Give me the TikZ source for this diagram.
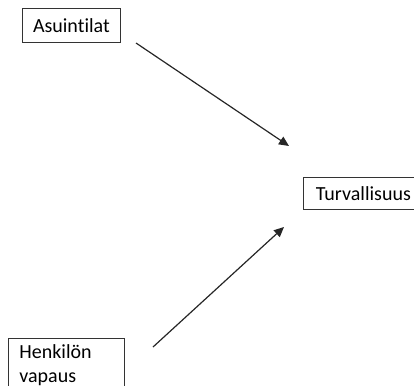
\documentclass[tikz,border=0pt]{standalone}
\usepackage{fontspec}
\setmainfont{Carlito}[Ligatures=NoCommon]
\usetikzlibrary{arrows.meta}

\tikzset{
  box/.style={draw=black!80, line width=0.8pt, rectangle, anchor=north west,
    font=\fontsize{20}{24.4}\selectfont},
  link/.style={-{Triangle[length=10pt,width=9pt]}, line width=1.2pt, black!85}
}

\begin{document}
\begin{tikzpicture}[x=1pt, y=-1pt]
    \useasboundingbox (0,0) rectangle (414,385);
    \node[box, minimum width=98pt, minimum height=34pt, inner xsep=0pt] (asuin) at (22,8) {Asuintilat};
    \node[box, minimum width=120pt, minimum height=32pt, inner xsep=11pt, align=left] (turva) at (303,177) {Turvallisuus};
    \node[box, text width=93pt, inner xsep=11.5pt, inner ysep=6pt, align=left] (vapaus) at (7.5,338) {Henkilön\\vapaus};
    \coordinate (a1) at (136,43);
    \coordinate (a2) at (289,146);
    \coordinate (b1) at (153,347);
    \coordinate (b2) at (284,227);
    \draw[link] (a1) -- (a2);
    \draw[link] (b1) -- (b2);
\end{tikzpicture}
\end{document}
